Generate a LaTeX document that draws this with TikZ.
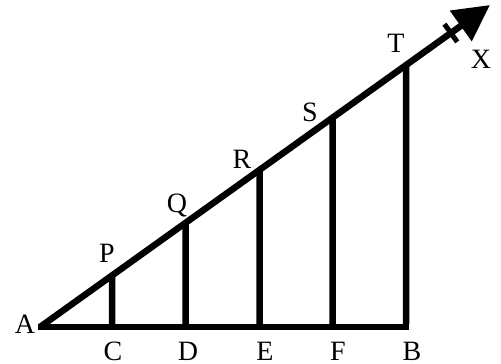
\documentclass[tikz,border=0pt]{standalone}
\usepackage{fontspec}
\setmainfont{Liberation Serif}
\usetikzlibrary{arrows.meta,calc}
\begin{document}
\begin{tikzpicture}[x=1pt,y=-1pt,
  seg/.style={line width=6.5pt,line cap=butt},
  lbl/.style={font=\fontsize{28}{32}\selectfont,inner sep=0pt,anchor=base}]
\useasboundingbox (0,0) rectangle (501,364);
% base points
\coordinate (A) at (40,327);
\coordinate (C) at (112,327);
\coordinate (D) at (185.5,327);
\coordinate (E) at (259.5,327);
\coordinate (F) at (332.5,327);
\coordinate (B) at (406,327);
\coordinate (X) at (490,5);
% points on the slanted line
\path (intersection of A--X and C--{112,0}) coordinate (P);
\path (intersection of A--X and D--{185.5,0}) coordinate (Q);
\path (intersection of A--X and E--{259.5,0}) coordinate (R);
\path (intersection of A--X and F--{332.5,0}) coordinate (S);
\path (intersection of A--X and B--{406,0}) coordinate (T);
% base line
\draw[seg] ([xshift=-2pt]A) -- ([xshift=3.25pt]B);
% slanted line with arrow
\draw[seg,-{Triangle[length=36pt,width=36pt]}] (A) -- (X);
% tick mark
\coordinate (K) at ($(A)!0.913!(X)$);
\draw[line width=5pt] ($(K)+(-6.4,-8.9)$) -- ($(K)+(6.4,8.9)$);
% verticals
\draw[seg] (C) -- (P);
\draw[seg] (D) -- (Q);
\draw[seg] (E) -- (R);
\draw[seg] (F) -- (S);
\draw[seg] ([yshift=3.25pt]B) -- (T);
% labels
\node[lbl] (lA) at (25,333) {A};
\node[lbl] (lC) at (113,360) {C};
\node[lbl] (lD) at (188,360) {D};
\node[lbl] (lE) at (265,360) {E};
\node[lbl] (lF) at (338,360) {F};
\node[lbl] (lB) at (412,360) {B};
\node[lbl] (lP) at (107,262) {P};
\node[lbl] (lQ) at (177,212) {Q};
\node[lbl] (lR) at (242,168) {R};
\node[lbl] (lS) at (310,121) {S};
\node[lbl] (lT) at (396,52) {T};
\node[lbl] (lX) at (481,68) {X};
\end{tikzpicture}
\end{document}
